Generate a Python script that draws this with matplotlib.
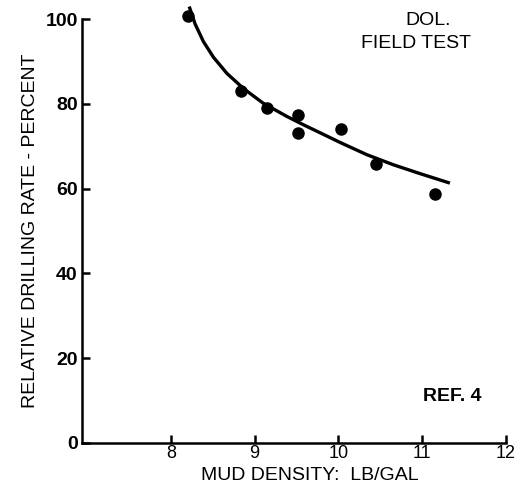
import numpy as np
import matplotlib
matplotlib.use("Agg")
import matplotlib.pyplot as plt

plt.rcParams['font.family'] = ['Liberation Sans', 'DejaVu Sans']

# Field test points
density_pts = [8.20, 8.84, 9.15, 9.52, 9.52, 10.03, 10.45, 11.15]
rate_pts = [100.8, 83.1, 79.0, 77.4, 73.1, 74.0, 65.8, 58.7]

# Trend curve
density_curve = [8.22, 8.29, 8.39, 8.51, 8.67, 8.87, 9.10, 9.38, 9.58, 9.78,
                 10.02, 10.34, 10.66, 10.98, 11.33]
rate_curve = [103.0, 98.9, 94.7, 91.0, 87.2, 83.6, 80.2, 77.1, 75.1, 73.2,
              70.9, 68.0, 65.6, 63.5, 61.3]

x_ticks = [8, 9, 10, 11, 12]
y_ticks = [0, 20, 40, 60, 80, 100]

fig = plt.figure(figsize=(5.25, 4.93), dpi=100)
ax = fig.add_axes([0.156, 0.102, 0.808, 0.859])

ax.plot(density_curve, rate_curve, color="black", lw=2.4, clip_on=False,
        solid_capstyle="butt", solid_joinstyle="round")
ax.plot(density_pts, rate_pts, "o", color="black", ms=8, clip_on=False)

ax.set_xlim(6.94, 12)
ax.set_ylim(0, 100)
ax.set_xticks(x_ticks)
ax.set_yticks(y_ticks)

for s in ["top", "right"]:
    ax.spines[s].set_visible(False)
for s in ["left", "bottom"]:
    ax.spines[s].set_linewidth(1.8)

ax.tick_params(axis="both", direction="in", length=6, width=1.8)
ax.tick_params(axis="x", labelsize=13, pad=2)
ax.tick_params(axis="y", labelsize=14, pad=3)
for lab in ax.get_yticklabels():
    lab.set_fontweight("bold")

ax.set_xlabel("MUD DENSITY:  LB/GAL", fontsize=14)
ax.xaxis.set_label_coords(0.538, -0.057)
ax.set_ylabel("RELATIVE DRILLING RATE - PERCENT", fontsize=14)
ax.yaxis.set_label_coords(-0.1, 0.5)

ax.text(11.07, 99.8, "DOL.", fontsize=14, ha="center", va="center")
ax.text(10.92, 94.2, "FIELD TEST", fontsize=14, ha="center", va="center")
ax.text(11.36, 10.8, "REF. 4", fontsize=14, fontweight="bold", ha="center", va="center")

plt.savefig("out.png", dpi=100)
